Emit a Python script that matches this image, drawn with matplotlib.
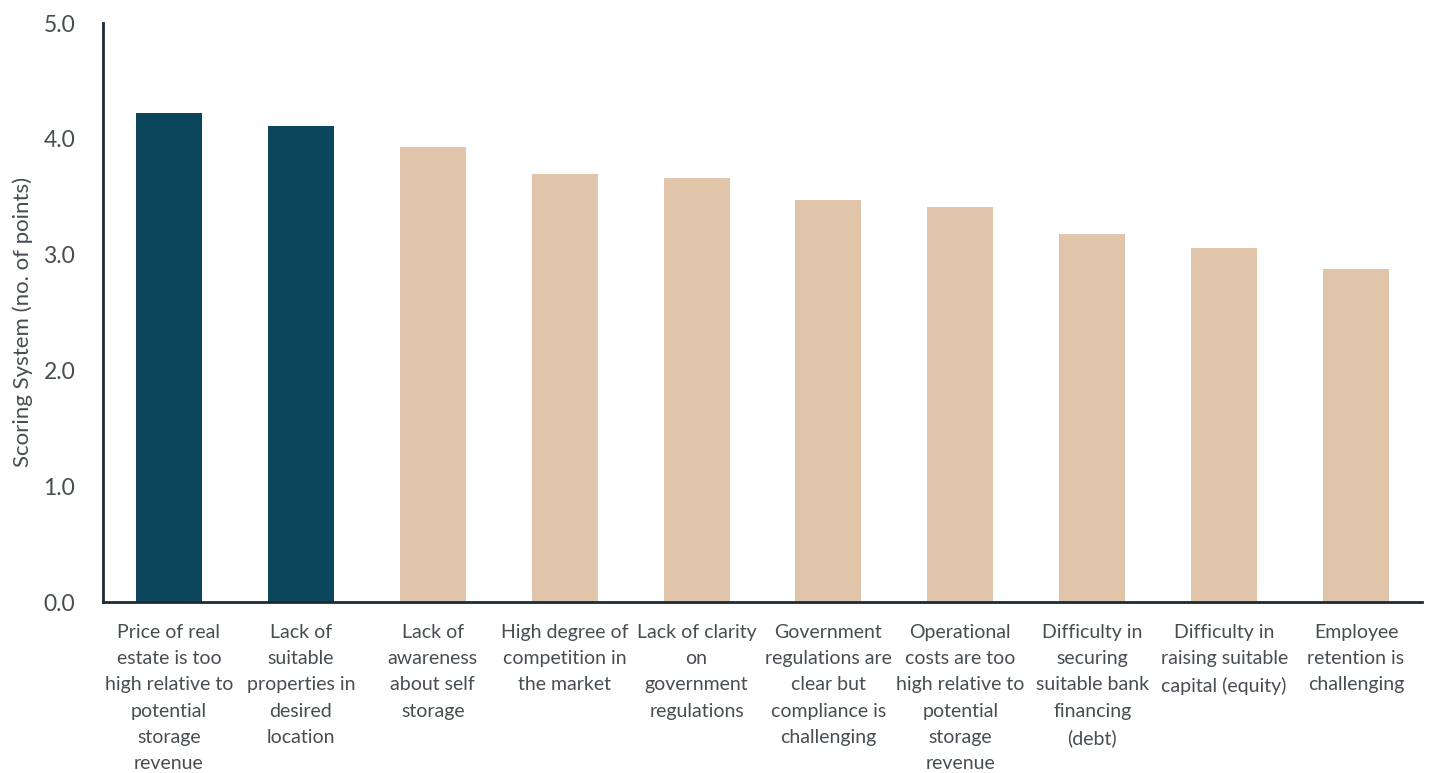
import matplotlib.pyplot as plt

# barriers to entry, scored by respondents
categories = [
    "Price of real\nestate is too\nhigh relative to\npotential\nstorage\nrevenue",
    "Lack of\nsuitable\nproperties in\ndesired\nlocation",
    "Lack of\nawareness\nabout self\nstorage",
    "High degree of\ncompetition in\nthe market",
    "Lack of clarity\non\ngovernment\nregulations",
    "Government\nregulations are\nclear but\ncompliance is\nchallenging",
    "Operational\ncosts are too\nhigh relative to\npotential\nstorage\nrevenue",
    "Difficulty in\nsecuring\nsuitable bank\nfinancing\n(debt)",
    "Difficulty in\nraising suitable\ncapital (equity)",
    "Employee\nretention is\nchallenging",
]
scores = [4.22, 4.11, 3.93, 3.70, 3.66, 3.47, 3.41, 3.18, 3.06, 2.88]
highlight = [True, True, False, False, False, False, False, False, False, False]
yticks = [0.0, 1.0, 2.0, 3.0, 4.0, 5.0]

DARK = "#0b465c"
TAN = "#e0c5aa"
TEXT = "#474d53"
AXIS = "#1e2a33"

plt.rcParams['font.family'] = ['Lato', 'DejaVu Sans']

fig = plt.figure(figsize=(14.3, 7.73), dpi=100)
ax = fig.add_axes([0.072, 0.2212, 0.9224, 0.749])

colors = [DARK if h else TAN for h in highlight]
x = list(range(len(scores)))
ax.bar(x, scores, width=0.5, color=colors)

ax.set_xlim(-0.5, 9.5)
ax.set_ylim(0, 5)
ax.set_yticks(yticks)
ax.set_yticklabels([f"{v:.1f}" for v in yticks], fontsize=16.5, color=TEXT)
ax.set_xticks(x)
ax.set_xticklabels(categories, fontsize=14, color=TEXT, linespacing=1.65, va='top')
ax.tick_params(axis='both', length=0)
ax.tick_params(axis='x', pad=16)
ax.tick_params(axis='y', pad=20)
ax.set_ylabel("Scoring System (no. of points)", fontsize=16, color=TEXT)
ax.yaxis.set_label_coords(-0.053, 0.484)

for s in ['top', 'right']:
    ax.spines[s].set_visible(False)
for s in ['left', 'bottom']:
    ax.spines[s].set_linewidth(2)
    ax.spines[s].set_color(AXIS)

fig.savefig("out.png", dpi=100, facecolor='white')
